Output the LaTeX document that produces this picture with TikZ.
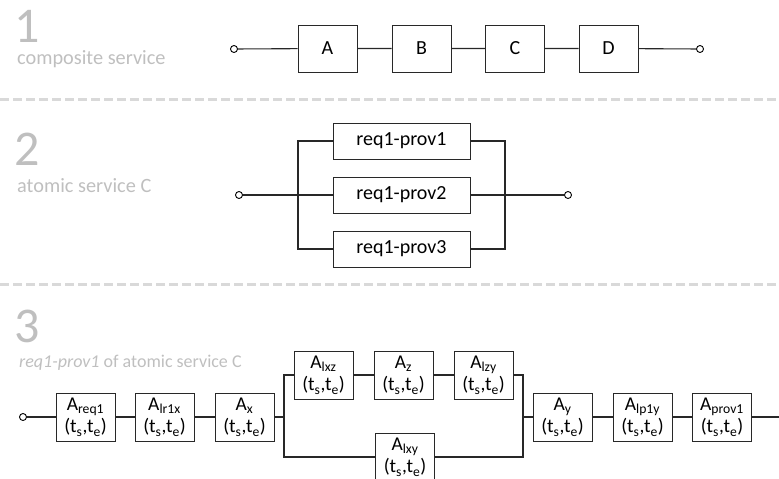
\documentclass[tikz,border=0pt]{standalone}
\usepackage{fontspec}
\setmainfont{Carlito}
\definecolor{titlegray}{RGB}{191,191,191}
\definecolor{sepgray}{RGB}{217,217,217}
\definecolor{linecol}{RGB}{40,40,40}
\begin{document}
\begin{tikzpicture}[x=1pt,y=-1pt,
  sepline/.style={draw=sepgray,line width=3pt,dash pattern=on 9pt off 4pt},
  bignum/.style={anchor=base west,inner sep=0,text depth=0pt,text=titlegray,font=\fontsize{50}{50}\selectfont},
  caption/.style={anchor=base west,inner sep=0,text=titlegray,font=\fontsize{20.3}{22}\selectfont},
  svc/.style={draw=linecol,line width=1pt,fill=white,inner sep=0,
    minimum width=59pt,minimum height=47pt,font=\fontsize{20}{22}\selectfont},
  prov/.style={draw=linecol,line width=1pt,fill=white,inner sep=0,
    minimum width=137pt,minimum height=36pt,font=\fontsize{20}{22}\selectfont},
  act/.style={draw=linecol,line width=1pt,fill=white,inner sep=0,align=center,
    minimum width=59pt,minimum height=48pt,font=\fontsize{19.5}{22.5}\selectfont},
  port/.style={circle,draw=black,line width=0.9pt,fill=white,inner sep=0,minimum size=7pt},
  wire/.style={draw=linecol,line width=1.1pt}
]
\useasboundingbox (0,0) rectangle (779,479);
\clip (0,0) rectangle (779,479);

% section separators
\draw[sepline] (0,99) -- (779,99);
\draw[sepline] (0,284) -- (779,284);

% ---- 1: composite service
\node[bignum] (n1) at (14,42) {1};
\node[caption] (t1) at (17,64) {composite service};
\node[port] (s1) at (234,49) {};
\node[svc] (A) at (327.5,48.5) {A};
\node[svc] (B) at (421.5,48.5) {B};
\node[svc] (C) at (515,48.5) {C};
\node[svc] (D) at (608.5,48.5) {D};
\node[port] (e1) at (700,49) {};
\draw[wire] (s1) -- (A) -- (B) -- (C) -- (D) -- (e1);

% ---- 2: atomic service C
\node[bignum] (n2) at (14,165) {2};
\node[caption] (t2) at (17,192) {atomic service C};
\node[port] (s2) at (239,195) {};
\node[prov] (p1) at (401.5,141) {req1-prov1};
\node[prov] (p2) at (401.5,195) {req1-prov2};
\node[prov] (p3) at (401.5,249) {req1-prov3};
\node[port] (e2) at (568,195) {};
\coordinate (jl2) at (298,195);
\coordinate (jr2) at (505,195);
\draw[wire] (p1.west) -| (jl2) |- (p3.west);
\draw[wire] (p1.east) -| (jr2) |- (p3.east);
\draw[wire] (s2) -- (p2.west);
\draw[wire] (p2.east) -- (e2);

% ---- 3: req1-prov1 of atomic service C
\node[bignum] (n3) at (14,342) {3};
\node[caption,font=\fontsize{18}{20}\selectfont] (t3) at (19,367) {\textit{req1-prov1} of atomic service C};
\node[port] (s3) at (23,417) {};
\node[act] (a1) at (85.5,417) {A\textsubscript{req1}\\(t\textsubscript{s},t\textsubscript{e})};
\node[act] (a2) at (164.5,417) {A\textsubscript{lr1x}\\(t\textsubscript{s},t\textsubscript{e})};
\node[act] (a3) at (244.5,417) {A\textsubscript{x}\\(t\textsubscript{s},t\textsubscript{e})};
\node[act] (b1) at (323.5,375) {A\textsubscript{lxz}\\(t\textsubscript{s},t\textsubscript{e})};
\node[act] (b2) at (403.5,375) {A\textsubscript{z}\\(t\textsubscript{s},t\textsubscript{e})};
\node[act] (b3) at (483.5,375) {A\textsubscript{lzy}\\(t\textsubscript{s},t\textsubscript{e})};
\node[act] (c1) at (405,457) {A\textsubscript{lxy}\\(t\textsubscript{s},t\textsubscript{e})};
\node[act] (d1) at (562.5,417) {A\textsubscript{y}\\(t\textsubscript{s},t\textsubscript{e})};
\node[act] (d2) at (642.5,417) {A\textsubscript{lp1y}\\(t\textsubscript{s},t\textsubscript{e})};
\node[act] (d3) at (722,417) {A\textsubscript{prov1}\\(t\textsubscript{s},t\textsubscript{e})};
\node[port] (e3) at (783,417) {};
\coordinate (jl3) at (284,417);
\coordinate (jr3) at (523,417);
\draw[wire] (s3) -- (a1) -- (a2) -- (a3) -- (jl3);
\draw[wire] (b1.west) -| (jl3) |- (c1.west);
\draw[wire] (b1) -- (b2) -- (b3);
\draw[wire] (b3.east) -| (jr3) |- (c1.east);
\draw[wire] (jr3) -- (d1) -- (d2) -- (d3) -- (e3);
\end{tikzpicture}
\end{document}
